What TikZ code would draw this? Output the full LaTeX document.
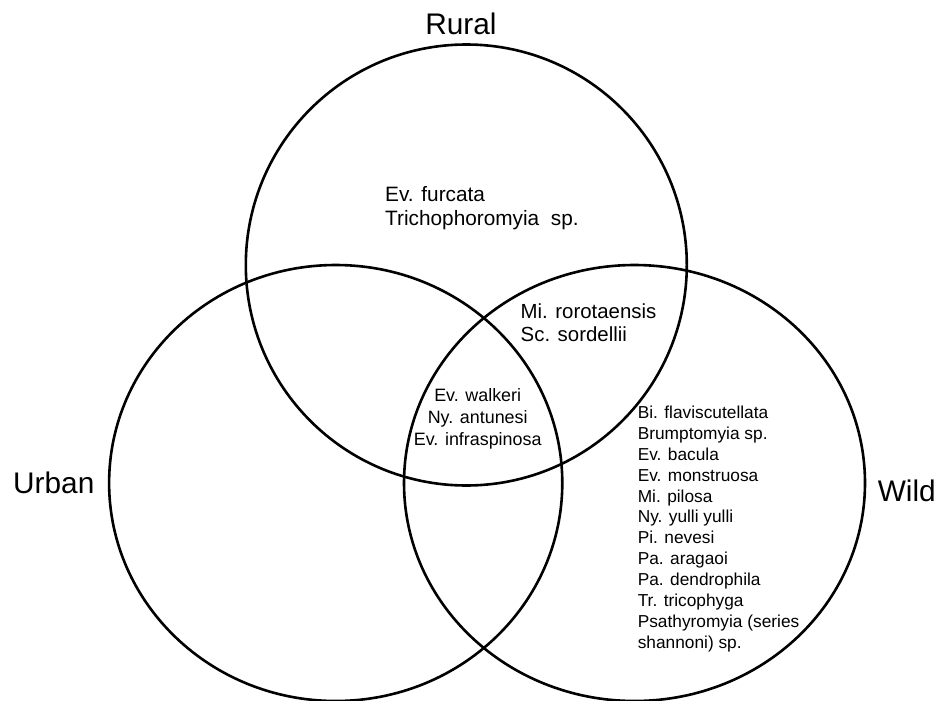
\documentclass[tikz,border=0pt]{standalone}
\usepackage{fontspec}
\setmainfont{Liberation Sans}
\begin{document}
\begin{tikzpicture}[x=1pt,y=-1pt,
  ring/.style={draw=black, line width=2.6pt},
  setlabel/.style={font=\fontsize{29.8}{36}\selectfont, inner sep=0pt},
  bigtxt/.style={font=\fontsize{20.8}{24}\selectfont, inner sep=0pt, align=left, anchor=base west},
  midtxt/.style={font=\fontsize{20.4}{23.4}\selectfont, inner sep=0pt, align=left, anchor=base west},
  ctrtxt/.style={font=\fontsize{17.9}{21.7}\selectfont, inner sep=0pt, align=center, anchor=base},
  listtxt/.style={font=\fontsize{17.3}{20.9}\selectfont, inner sep=0pt, align=left, anchor=base west}]
\useasboundingbox (0,0) rectangle (940,701);
% sets
\draw[ring] (466.3,265) circle [radius=220.5pt];
\draw[ring] (335.7,483) ellipse [x radius=226.6pt, y radius=218pt];
\draw[ring] (634.5,483) ellipse [x radius=230.5pt, y radius=218pt];
% set labels
\node[setlabel, anchor=base] (rural) at (461,35) {Rural};
\node[setlabel, anchor=base west] (urban) at (13,493) {Urban};
\node[setlabel, anchor=base east] (wild) at (936,501.7) {Wild};
% region contents (anchor base = baseline of the last line)
\node[bigtxt] (ruralonly) at (385,225) {Ev. furcata\\Trichophoromyia~~sp.};
\node[midtxt] (ruralwild) at (520.5,341.7) {Mi. rorotaensis\\Sc. sordellii};
\node[ctrtxt] (all) at (477.7,445) {Ev. walkeri\\Ny. antunesi\\Ev. infraspinosa};
\node[listtxt] (wildonly) at (637.6,648.3) {Bi. flaviscutellata\\Brumptomyia sp.\\Ev. bacula\\Ev. monstruosa\\Mi. pilosa\\Ny. yulli yulli\\Pi. nevesi\\Pa. aragaoi\\Pa. dendrophila\\Tr. tricophyga\\Psathyromyia (series\\shannoni) sp.};
\end{tikzpicture}
\end{document}
